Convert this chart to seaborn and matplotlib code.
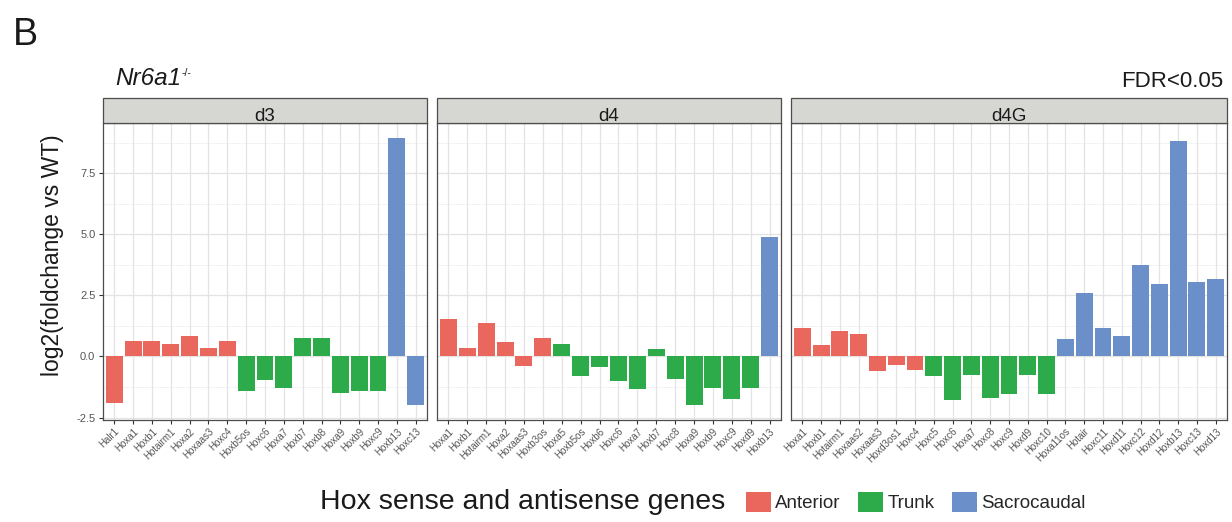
import matplotlib
matplotlib.use("Agg")
import matplotlib.pyplot as plt
from matplotlib.patches import Rectangle, Patch
import seaborn as sns
import pandas as pd

# ---------------- data ----------------
d3_genes = ["Halr1", "Hoxa1", "Hoxb1", "Hotairm1", "Hoxa2", "Hoxaas3", "Hoxc4",
            "Hoxb5os", "Hoxc6", "Hoxa7", "Hoxb7", "Hoxb8", "Hoxa9", "Hoxb9", "Hoxc9",
            "Hoxb13", "Hoxc13"]
d3_values = [-1.9, 0.65, 0.65, 0.5, 0.85, 0.35, 0.65,
             -1.4, -0.95, -1.3, 0.75, 0.75, -1.5, -1.43, -1.43,
             8.95, -2.0]
d3_groups = ["Anterior"] * 7 + ["Trunk"] * 8 + ["Sacrocaudal"] * 2

d4_genes = ["Hoxa1", "Hoxb1", "Hotairm1", "Hoxa2", "Hoxaas3", "Hoxb3os",
            "Hoxa5", "Hoxb5os", "Hoxb6", "Hoxc6", "Hoxa7", "Hoxb7", "Hoxc8",
            "Hoxa9", "Hoxb9", "Hoxc9", "Hoxd9", "Hoxb13"]
d4_values = [1.55, 0.35, 1.35, 0.6, -0.4, 0.75,
             0.5, -0.8, -0.42, -1.0, -1.35, 0.3, -0.92,
             -2.0, -1.3, -1.75, -1.3, 4.9]
d4_groups = ["Anterior"] * 6 + ["Trunk"] * 11 + ["Sacrocaudal"] * 1

d4g_genes = ["Hoxa1", "Hoxb1", "Hotairm1", "Hoxaas2", "Hoxaas3", "Hoxd3os1", "Hoxc4",
             "Hoxc5", "Hoxc6", "Hoxa7", "Hoxc8", "Hoxc9", "Hoxd9", "Hoxc10",
             "Hoxa11os", "Hotair", "Hoxc11", "Hoxd11", "Hoxc12", "Hoxd12",
             "Hoxb13", "Hoxc13", "Hoxd13"]
d4g_values = [1.15, 0.45, 1.05, 0.9, -0.6, -0.35, -0.55,
              -0.8, -1.8, -0.75, -1.7, -1.55, -0.75, -1.55,
              0.7, 2.6, 1.15, 0.82, 3.75, 2.95, 8.8, 3.05, 3.15]
d4g_groups = ["Anterior"] * 7 + ["Trunk"] * 7 + ["Sacrocaudal"] * 9

panels = ["d3", "d4", "d4G"]
group_names = ["Anterior", "Trunk", "Sacrocaudal"]
palette = {"Anterior": "#E9675D", "Trunk": "#2DAA4A", "Sacrocaudal": "#6B8FC9"}

frames = {
    "d3": pd.DataFrame({"gene": d3_genes, "value": d3_values, "group": d3_groups}),
    "d4": pd.DataFrame({"gene": d4_genes, "value": d4_values, "group": d4_groups}),
    "d4G": pd.DataFrame({"gene": d4g_genes, "value": d4g_values, "group": d4g_groups}),
}

# ---------------- figure ----------------
sns.set_theme(style="white")
plt.rcParams["font.family"] = ["Liberation Sans", "DejaVu Sans"]

W, H = 1232, 522
fig = plt.figure(figsize=(W / 100, H / 100), dpi=100)

panel_px = {"d3": (103, 427), "d4": (437, 781), "d4G": (791, 1227)}
top_px, bot_px = 123, 420


def fx(px):
    return px / W


def fy(py):
    return 1 - py / H


for name in panels:
    df = frames[name]
    x0, x1 = panel_px[name]
    ax = fig.add_axes([fx(x0), fy(bot_px), (x1 - x0) / W, (bot_px - top_px) / H])
    ax.set_facecolor("white")
    n = len(df)
    # grid
    for yv in [-2.5, 0, 2.5, 5, 7.5]:
        ax.axhline(yv, color="#E3E3E3", lw=0.9, zorder=0)
    for yv in [-1.25, 1.25, 3.75, 6.25, 8.75]:
        ax.axhline(yv, color="#EFEFEF", lw=0.5, zorder=0)
    for i in range(n):
        ax.axvline(i, color="#E3E3E3", lw=0.9, zorder=0)

    sns.barplot(data=df, x="gene", y="value", hue="group", palette=palette,
                order=list(df["gene"]), hue_order=group_names, dodge=False,
                width=0.9, legend=False, ax=ax, zorder=2, saturation=1,
                edgecolor="none", linewidth=0)
    ax.set_xlim(-0.6, n - 0.4)
    ax.set_ylim(-2.6, 9.55)
    ax.set_xlabel("")
    ax.set_ylabel("")
    ax.grid(False)
    for s in ax.spines.values():
        s.set_color("#4D4D4D")
        s.set_linewidth(0.9)
    ax.tick_params(axis="x", length=3, width=0.8, color="#333333", bottom=True,
                   labelsize=7, labelcolor="#555555", pad=1.5)
    ax.set_xticks(range(n))
    ax.set_xticklabels(list(df["gene"]), rotation=45, ha="right", rotation_mode="anchor")
    if name == "d3":
        ax.set_yticks([-2.5, 0, 2.5, 5, 7.5])
        ax.set_yticklabels(["-2.5", "0.0", "2.5", "5.0", "7.5"])
        ax.tick_params(axis="y", length=3, width=0.8, color="#333333", left=True,
                       labelsize=8, labelcolor="#555555", pad=2.5)
    else:
        ax.set_yticks([])
    # strip
    sh = 25 / (bot_px - top_px)
    ax.add_patch(Rectangle((0, 1.0), 1, sh, transform=ax.transAxes, clip_on=False,
                           facecolor="#D6D6D2", edgecolor="#4D4D4D", lw=0.9, zorder=5))
    ax.text(0.5, 1.0 + 2 / (bot_px - top_px), name, transform=ax.transAxes,
            ha="center", va="baseline", fontsize=13.5, color="#1A1A1A", zorder=6)

fig.text(fx(13), fy(45), "B", fontsize=27, ha="left", va="baseline", color="#1A1A1A")
fig.text(fx(115), fy(85), "Nr6a1", fontsize=17.5, style="italic", ha="left",
         va="baseline", color="#1A1A1A")
fig.text(fx(182), fy(76), "-/-", fontsize=7.5, ha="left", va="baseline", color="#1A1A1A")
fig.text(fx(1223), fy(87), "FDR<0.05", fontsize=16, ha="right", va="baseline",
         color="#1A1A1A")
fig.text(fx(53), fy(255), "log2(foldchange vs WT)", fontsize=16.5, rotation=90,
         ha="center", va="center", color="#1A1A1A")

fig.text(fx(320), fy(502), "Hox sense and antisense genes", fontsize=20.5,
         ha="left", va="center", color="#1A1A1A")
handles = [Patch(facecolor=palette[g], edgecolor="none", label=g) for g in group_names]
fig.legend(handles=handles, loc="center left", bbox_to_anchor=(fx(746), fy(502)),
           ncol=3, frameon=False, fontsize=13.5, handlelength=1.33, handleheight=1.33,
           handletextpad=0.22, columnspacing=0.95, borderaxespad=0, borderpad=0)

fig.savefig("out.png", dpi=100, facecolor="white")
